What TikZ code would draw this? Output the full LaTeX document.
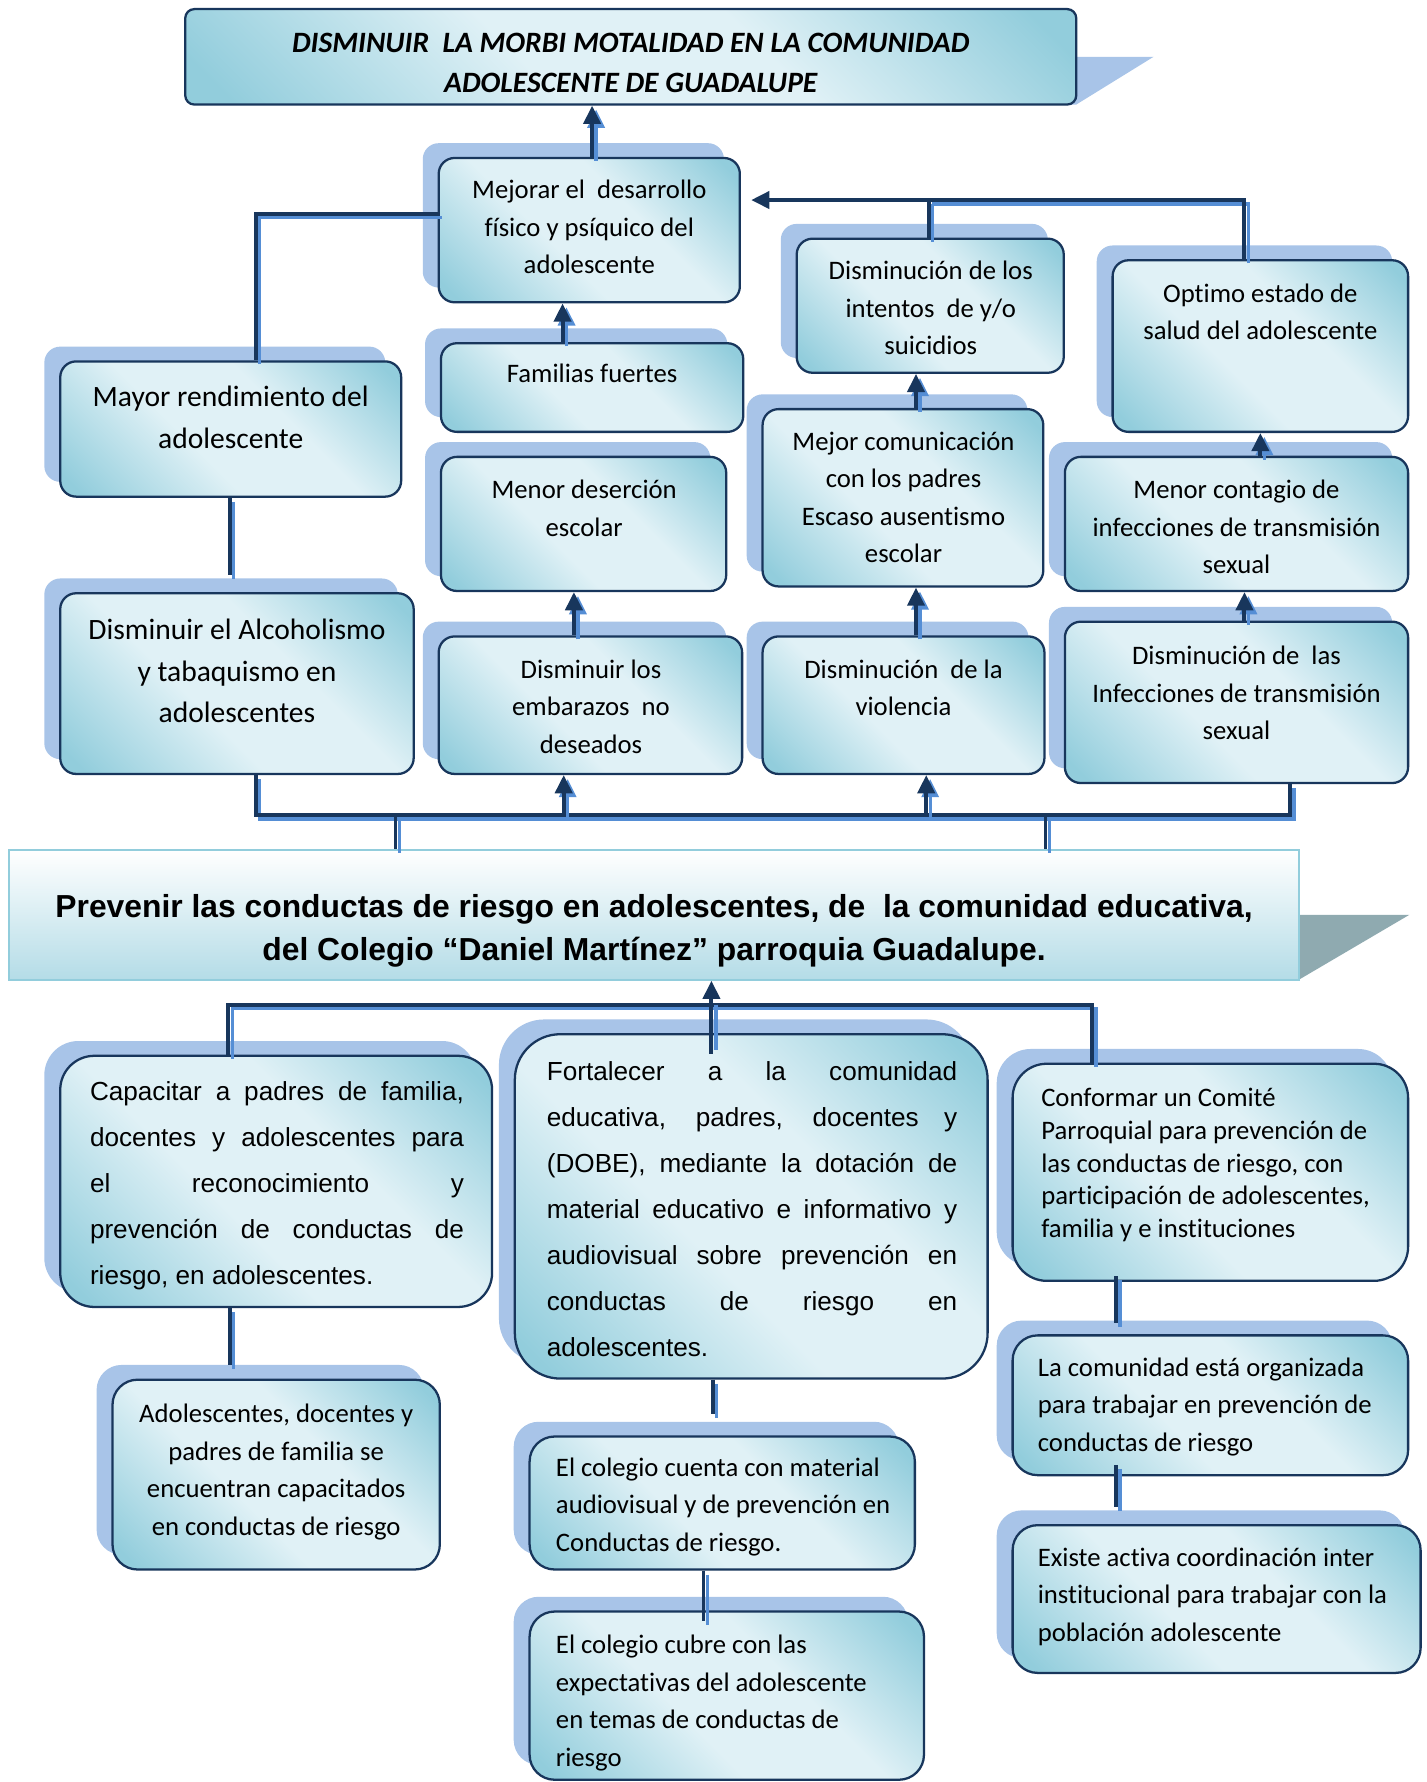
\documentclass[tikz,border=0pt]{standalone}
\usepackage{fontspec}
\setmainfont{Carlito}[Ligatures=NoCommon]
\newfontfamily\arialf{Liberation Sans}[Ligatures=NoCommon]
\usetikzlibrary{arrows.meta,shadows}
\definecolor{navy}{RGB}{24,54,92}
\definecolor{ltblue}{RGB}{85,142,213}
\definecolor{shadowc}{RGB}{168,196,232}
\definecolor{tealc}{RGB}{146,205,220}
\definecolor{lightc}{RGB}{224,241,246}
\definecolor{flagc}{RGB}{143,170,176}
\definecolor{cenedge}{RGB}{146,205,220}
\definecolor{cenbot}{RGB}{180,220,231}
\pgfdeclarehorizontalshading{bxshade}{100bp}{color(0bp)=(tealc); color(18bp)=(tealc); color(42bp)=(lightc); color(60bp)=(lightc); color(82bp)=(tealc); color(100bp)=(tealc)}
\newcommand\mkbox[6][]{%
 \pgfmathsetmacro\mbW{#5-#3}\pgfmathsetmacro\mbH{#6-#4}%
 \pgfmathsetmacro\mbX{(#3+#5)/2}\pgfmathsetmacro\mbY{(#4+#6)/2}%
 \node[bx,minimum width=\mbW pt,minimum height=\mbH pt,#1] (#2) at (\mbX,\mbY) {};}
\newcommand\dcon[2][]{\draw[lt,#1,transform canvas={xshift=3.5pt,yshift=-3.5pt}] #2;\draw[dk,#1] #2;}
\newcommand\fA{\fontsize{23.5}{33}\selectfont}
\newcommand\fB{\fontsize{26}{36.5}\selectfont}
\newcommand\fT{\fontsize{26}{35}\selectfont\bfseries\itshape}
\newcommand\fC{\arialf\bfseries\fontsize{28}{38}\selectfont}
\newcommand\fD{\arialf\fontsize{23}{40.5}\selectfont}
\newcommand\fE{\fontsize{23.5}{28.7}\selectfont}
\newcommand\jl[1]{\makebox[\linewidth][s]{#1}}
\begin{document}
\begin{tikzpicture}[x=1pt,y=-1pt,
 bx/.style={draw=navy,line width=2pt,rounded corners=14pt,shading=bxshade,shading angle=45,
  general shadow={fill=shadowc,shadow xshift=-14pt,shadow yshift=13pt},inner sep=0pt},
 dk/.style={draw=navy,line width=3.5pt},
 lt/.style={draw=ltblue,line width=3pt},
 tip/.style={-{Triangle[length=16pt,width=15pt]}},
 txt/.style={inner sep=0pt,anchor=base},
 txl/.style={inner sep=0pt,anchor=base west}]
\fill[white] (0,0) rectangle (1255,1568);
\useasboundingbox (0,0) rectangle (1255,1568);
% flags
\fill[shadowc] (900,50) -- (1015,50) -- (947,92) -- (900,92) -- cycle;
\fill[flagc] (1100,805) -- (1240,805) -- (1143,862) -- (1100,862) -- cycle;
% title
\node[draw=navy,line width=2pt,rounded corners=8pt,shading=bxshade,shading angle=45,inner sep=0pt,
  minimum width=784pt,minimum height=84pt] (tit) at (555,50) {};
% central
\node[draw=cenedge,line width=2pt,top color=white,bottom color=cenbot,inner sep=0pt,
  minimum width=1135pt,minimum height=114pt] (cen) at (575.5,805) {};
% top boxes
\mkbox{mej}{386}{139}{651}{266}
\mkbox{fam}{388}{302}{654}{380}
\mkbox{des}{388}{402}{639}{520}
\mkbox{emb}{386}{560}{653}{681}
\mkbox{int}{701}{210}{936}{328}
\mkbox{com}{671}{360}{918}{516}
\mkbox{vio}{671}{560}{919}{681}
\mkbox{opt}{979}{229}{1239}{380}
\mkbox{con}{937}{402}{1239}{520}
\mkbox{its}{937}{547}{1239}{689}
\mkbox{may}{53}{318}{353}{437}
\mkbox{alc}{53}{522}{364}{681}
% bottom boxes
\mkbox[rounded corners=30pt]{cap}{53}{929}{433}{1150}
\mkbox[rounded corners=40pt]{fort}{453}{910}{869}{1213}
\mkbox[rounded corners=30pt]{conf}{891}{936}{1239}{1127}
\mkbox[rounded corners=22pt]{ado}{99}{1214}{387}{1381}
\mkbox[rounded corners=22pt]{cue}{466}{1264}{805}{1381}
\mkbox[rounded corners=22pt]{cub}{466}{1418}{813}{1566}
\mkbox[rounded corners=22pt]{org}{891}{1175}{1239}{1298}
\mkbox[rounded corners=22pt]{exi}{891}{1342}{1250}{1472}
% texts
\node[txt] (titt) at (555,46) {\parbox[t]{780pt}{\centering\fT DISMINUIR\ \ LA MORBI MOTALIDAD EN LA COMUNIDAD\\ADOLESCENTE DE GUADALUPE}};
\node[txt] (mejt) at (518.5,175) {\parbox[t]{260pt}{\centering\fA Mejorar el\ \ desarrollo\\físico y psíquico del\\adolescente}};
\node[txt] (famt) at (521,337) {\parbox[t]{260pt}{\centering\fA Familias fuertes}};
\node[txt] (dest) at (514,439) {\parbox[t]{250pt}{\centering\fA Menor deserción\\escolar}};
\node[txt] (embt) at (520,597) {\parbox[t]{260pt}{\centering\fA Disminuir los\\embarazos\ \ no\\deseados}};
\node[txt] (intt) at (819,246) {\parbox[t]{235pt}{\centering\fA Disminución de los\\intentos\ \ de y/o\\suicidios}};
\node[txt] (comt) at (795,396) {\parbox[t]{245pt}{\centering\fA Mejor comunicación\\con los padres\\Escaso ausentismo\\escolar}};
\node[txt] (viot) at (795,597) {\parbox[t]{245pt}{\centering\fA Disminución\ \ de la\\violencia}};
\node[txt] (optt) at (1109,266) {\parbox[t]{260pt}{\centering\fA Optimo estado de\\salud del adolescente}};
\node[txt] (cont) at (1088,439) {\parbox[t]{300pt}{\centering\fA Menor contagio de\\infecciones de transmisión\\sexual}};
\node[txt] (itst) at (1088,585) {\parbox[t]{300pt}{\centering\fA Disminución de\ \ las\\Infecciones de transmisión\\sexual}};
\node[txt] (mayt) at (203,358) {\parbox[t]{300pt}{\centering\fB Mayor rendimiento del\\adolescente}};
\node[txt] (alct) at (208.5,563) {\parbox[t]{310pt}{\centering\fB Disminuir el Alcoholismo\\y tabaquismo en\\adolescentes}};
\node[txt] (cent) at (575.5,807) {\parbox[t]{1130pt}{\centering\fC Prevenir las conductas de riesgo en adolescentes, de\ \ la comunidad educativa,\\del Colegio “Daniel Martínez” parroquia Guadalupe.}};
\node[txl] (capt) at (79,968) {\parbox[t]{329pt}{\fD\jl{Capacitar a padres de familia,}\\\jl{docentes y adolescentes para}\\\jl{el reconocimiento y}\\\jl{prevención de conductas de}\\riesgo, en adolescentes.}};
\node[txl] (fortt) at (481,951) {\parbox[t]{361pt}{\fD\jl{Fortalecer a la comunidad}\\\jl{educativa, padres, docentes y}\\\jl{(DOBE), mediante la dotación de}\\\jl{material educativo e informativo y}\\\jl{audiovisual sobre prevención en}\\\jl{conductas de riesgo en}\\adolescentes.}};
\node[txl] (conft) at (916,974) {\parbox[t]{320pt}{\fE Conformar un Comité\\Parroquial para prevención de\\las conductas de riesgo, con\\participación de adolescentes,\\familia y e instituciones}};
\node[txt] (adot) at (243,1252) {\parbox[t]{285pt}{\centering\fA Adolescentes, docentes y\\padres de familia se\\encuentran capacitados\\en conductas de riesgo}};
\node[txl] (cuet) at (489,1299) {\parbox[t]{320pt}{\fA El colegio cuenta con material\\audiovisual y de prevención en\\Conductas de riesgo.}};
\node[txl] (cubt) at (489,1455) {\parbox[t]{320pt}{\fA El colegio cubre con las\\expectativas del adolescente\\en temas de conductas de\\riesgo}};
\node[txl] (orgt) at (913,1211) {\parbox[t]{330pt}{\fA La comunidad está organizada\\para trabajar en prevención de\\conductas de riesgo}};
\node[txl] (exit) at (913,1378) {\parbox[t]{340pt}{\fA Existe activa coordinación inter\\institucional para trabajar con la\\población adolescente}};
% connectors top
\dcon[tip]{([xshift=2.5pt]mej.north) -- ([xshift=2.5pt]mej.north |- tit.south)}
\dcon[tip]{([xshift=-26pt]fam.north) -- ([xshift=-26pt]fam.north |- mej.south)}
\dcon[tip]{([xshift=-14.5pt]emb.north) -- ([xshift=-14.5pt]emb.north |- des.south)}
\dcon[tip]{([xshift=11pt]vio.north) -- ([xshift=11pt]vio.north |- com.south)}
\dcon[tip]{([xshift=11.5pt]com.north) -- ([xshift=11.5pt]com.north |- int.south)}
\dcon[tip]{([xshift=21pt]con.north) -- ([xshift=21pt]con.north |- opt.south)}
\dcon[tip]{([xshift=7pt]its.north) -- ([xshift=7pt]its.north |- con.south)}
\coordinate (jn) at (817,176);
\dcon{([xshift=-1.5pt]int.north) -- (jn)}
\dcon{([xshift=-14pt]opt.north) |- (jn)}
\draw[dk,tip] (jn) -- ([xshift=9pt]mej.east |- jn);
\dcon{([xshift=22pt]may.north) |- ([yshift=14.5pt]mej.west)}
\dcon{([xshift=-1pt]may.south) -- ++(0,68)}
\coordinate (barR) at (1135,717);
\dcon{([xshift=16.5pt]alc.south) |- (barR) -- (barR |- its.south)}
\dcon[tip]{([xshift=-23.5pt]emb.south |- barR) -- ([xshift=-23.5pt]emb.south)}
\dcon[tip]{([xshift=20pt]vio.south |- barR) -- ([xshift=20pt]vio.south)}
\dcon[line width=2.5pt]{([xshift=-227.5pt]cen.north |- barR) -- ([xshift=-227.5pt]cen.north)}
\dcon[line width=2.5pt]{([xshift=344.5pt]cen.north |- barR) -- ([xshift=344.5pt]cen.north)}
% connectors bottom
\coordinate (bb) at (600,884);
\dcon{([xshift=-42pt]cap.north) |- (bb) -| ([xshift=-104pt]conf.north)}
\draw[lt] ([xshift=-31pt]fort.north |- bb) -- ([xshift=-31pt,yshift=-15pt]fort.north);
\draw[dk,line width=3.5pt,tip] ([xshift=-35pt,yshift=-18pt]fort.north) -- ([xshift=-35pt]fort.north |- cen.south);
\dcon{([xshift=-41pt]cap.south) -- ++(0,50)}
\dcon{([xshift=-34pt]fort.south) -- ++(0,30)}
\dcon{([xshift=-16.5pt]cue.south) -- ++(0,44)}
\dcon{([xshift=-83pt,yshift=5pt]conf.south) -- ++(0,41)}
\dcon{([xshift=-83pt,yshift=10pt]org.south) -- ++(0,37)}
\end{tikzpicture}
\end{document}
